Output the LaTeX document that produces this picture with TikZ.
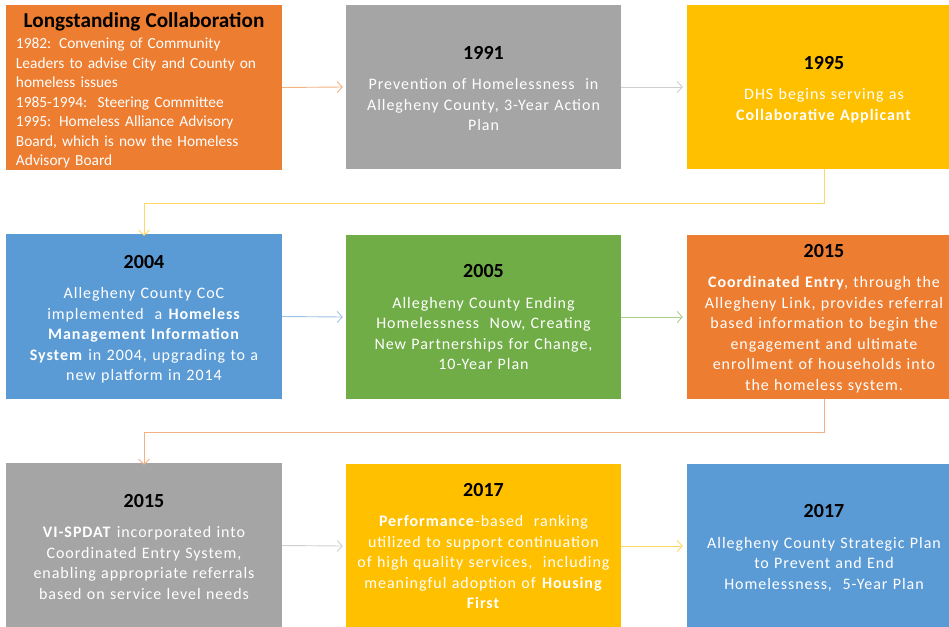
\documentclass[tikz,border=0pt]{standalone}
\usepackage{fontspec}
\setmainfont{Carlito}
\newfontfamily\spacedfont[LetterSpace=6]{Carlito}
\usetikzlibrary{arrows.meta}
\definecolor{cOrange}{HTML}{ED7D31}
\definecolor{cGrey}{HTML}{A5A5A5}
\definecolor{cYellow}{HTML}{FFC000}
\definecolor{cBlue}{HTML}{5B9BD5}
\definecolor{cGreen}{HTML}{70AD47}
\definecolor{aOrange}{HTML}{F4B183}
\definecolor{aGrey}{HTML}{CFCFCF}
\definecolor{aYellow}{HTML}{FFD966}
\definecolor{aBlue}{HTML}{9DC3E6}
\definecolor{aGreen}{HTML}{A9D18E}
\newcommand\yr[1]{{\normalfont\fontsize{20}{24}\selectfont\bfseries\color{black}#1\par}\vspace{10pt}}
\tikzset{
  box/.style={rectangle, inner sep=0pt, draw=none},
  txt/.style={inner sep=0pt, text=white, align=center, text width=270pt,
    font=\spacedfont\fontsize{16}{20.5}\selectfont},
  conn/.style={line width=0.9pt, -{Straight Barb[length=5pt,width=11pt]}},
}
\begin{document}
\begin{tikzpicture}[x=1pt,y=-1pt]
\clip (0,0) rectangle (949,626);
% boxes
\node[box, fill=cOrange, minimum width=276, minimum height=165] (b1) at (144,87.5) {};
\node[box, fill=cGrey,   minimum width=275, minimum height=164] (b2) at (483.5,87) {};
\node[box, fill=cYellow, minimum width=274, minimum height=164] (b3) at (824,87) {};
\node[box, fill=cBlue,   minimum width=276, minimum height=165] (b4) at (144,316.5) {};
\node[box, fill=cGreen,  minimum width=275, minimum height=164] (b5) at (483.5,317) {};
\node[box, fill=cOrange, minimum width=274, minimum height=164] (b6) at (824,317) {};
\node[box, fill=cGrey,   minimum width=276, minimum height=165] (b7) at (144,545.5) {};
\node[box, fill=cYellow, minimum width=275, minimum height=164] (b8) at (483.5,546) {};
\node[box, fill=cBlue,   minimum width=274, minimum height=164] (b9) at (824,546) {};
% texts
\node[txt, align=left, text width=256pt, font=\fontsize{15.4}{19.5}\selectfont] (t1)
  at ([yshift=-3pt]b1.center)
  {{\centering\fontsize{21.2}{23}\selectfont\bfseries\color{black}Longstanding Collaboration\par}\vspace{2pt}
   1982: Convening of Community\\
   Leaders to advise City and County on\\
   homeless issues\\
   1985-1994:\ \ Steering Committee\\
   1995: Homeless Alliance Advisory\\
   Board, which is now the Homeless\\
   Advisory Board};
\node[txt] (t2) at ([yshift=-1.5pt]b2.center)
  {\yr{1991}Prevention of Homelessness\ \ in\\ Allegheny County, 3-Year Action\\ Plan};
\node[txt] (t3) at ([yshift=-2.5pt]b3.center)
  {\yr{1995}DHS begins serving as\\ \textbf{Collaborative Applicant}};
\node[txt] (t4) at ([yshift=-2.5pt]b4.center)
  {\yr{2004}Allegheny County CoC\\ implemented\ \ a \textbf{Homeless}\\ \textbf{Management Information}\\ \textbf{System} in 2004, upgrading to a\\ new platform in 2014};
\node[txt] (t5) at (b5.center)
  {\yr{2005}Allegheny County Ending\\ Homelessness\ \ Now, Creating\\ New Partnerships for Change,\\ 10-Year Plan};
\node[txt] (t6) at ([yshift=-1.5pt]b6.center)
  {\yr{2015}\textbf{Coordinated Entry}, through the\\ Allegheny Link, provides referral\\ based information to begin the\\ engagement and ultimate\\ enrollment of households into\\ the homeless system.};
\node[txt] (t7) at ([yshift=-1pt]b7.center)
  {\yr{2015}\textbf{VI-SPDAT} incorporated into\\ Coordinated Entry System,\\ enabling appropriate referrals\\ based on service level needs};
\node[txt] (t8) at (b8.center)
  {\yr{2017}\textbf{Performance}-based\ \ ranking\\ utilized to support continuation\\ of high quality services,\ \ including\\ meaningful adoption of \textbf{Housing}\\ \textbf{First}};
\node[txt] (t9) at ([yshift=-2pt]b9.center)
  {\yr{2017}Allegheny County Strategic Plan\\ to Prevent and End\\ Homelessness,\ \ 5-Year Plan};
% connectors
\coordinate (j1) at (0,203);
\coordinate (j2) at (0,432);
\draw[conn, aOrange] (b1.east) -- ([xshift=-3pt]b2.west);
\draw[conn, aGrey] (b2.east) -- ([xshift=-4pt]b3.west);
\draw[conn, aYellow] (b3.south) -- (b3.south |- j1) -| ([yshift=-2pt]b4.north);
\draw[conn, aBlue] (b4.east) -- ([xshift=-3pt]b5.west);
\draw[conn, aGreen] (b5.east) -- ([xshift=-4pt]b6.west);
\draw[conn, aOrange] (b6.south) -- (b6.south |- j2) -| ([yshift=-2pt]b7.north);
\draw[conn, aGrey] (b7.east) -- ([xshift=-3pt]b8.west);
\draw[conn, aYellow] (b8.east) -- ([xshift=-4pt]b9.west);
\end{tikzpicture}
\end{document}
